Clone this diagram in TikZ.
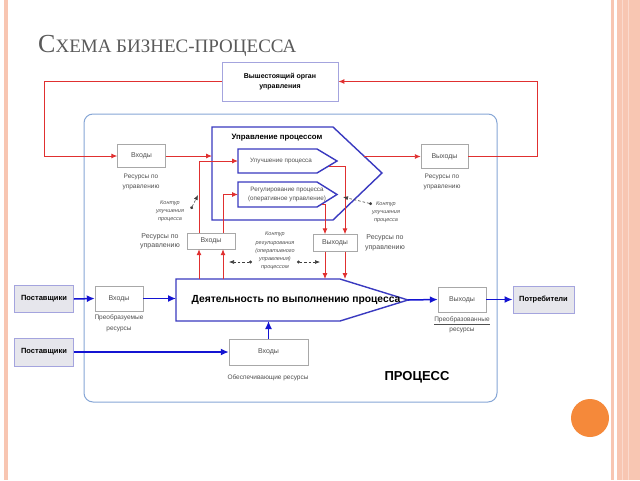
\documentclass[tikz,border=0pt]{standalone}
\usepackage{fontspec}
\setmainfont{Liberation Sans}
\newfontfamily\titlefont{Liberation Serif}
\usetikzlibrary{arrows.meta,calc}
\definecolor{pinkline}{HTML}{F8C6B2}
\definecolor{pinklite}{HTML}{FBDACE}
\definecolor{orangec}{HTML}{F5893A}
\definecolor{redl}{HTML}{E03030}
\definecolor{bluel}{HTML}{1414D2}
\definecolor{penta}{HTML}{3A3AC0}
\definecolor{procb}{HTML}{86A6D6}
\definecolor{boxg}{HTML}{A8A8A8}
\definecolor{supfill}{HTML}{E6E6EC}
\definecolor{supdraw}{HTML}{A4A4DE}
\definecolor{titleg}{HTML}{5A5A5A}
\definecolor{txtg}{HTML}{505050}
\tikzset{
  gbox/.style={draw=boxg, fill=white, inner sep=0pt, text=txtg, font=\fontsize{7}{8}\selectfont},
  supbox/.style={draw=supdraw, fill=supfill, inner sep=0pt, line width=0.8pt, font=\bfseries\fontsize{7.5}{8}\selectfont},
  bossbox/.style={draw=supdraw, fill=white, inner sep=0pt, line width=0.8pt, align=center, font=\bfseries\fontsize{7}{10}\selectfont},
  lbl/.style={inner sep=0pt, align=center, text=txtg, font=\fontsize{6.5}{9.5}\selectfont},
  klbl/.style={inner sep=0pt, align=center, text=txtg, font=\itshape\fontsize{5.5}{8.2}\selectfont},
  redarr/.style={draw=redl, line width=0.9pt, -{Latex[length=6pt,width=5pt]}},
  bluearr/.style={draw=bluel, line width=1.5pt, -{Latex[length=8pt,width=7pt]}},
  pentastyle/.style={draw=penta, line width=1.4pt, line join=miter},
  ctarr/.style={draw=black!75, line width=0.6pt, dash pattern=on 2.5pt off 2pt, {Circle[length=3pt]}-{Latex[length=5pt,width=4pt]}},
}
\begin{document}
\begin{tikzpicture}[x=1pt,y=-1pt]
\useasboundingbox (0,0) rectangle (640,480);
\fill[white] (0,0) rectangle (640,480);
% slide decorations
\fill[pinkline] (4,0) rectangle (7.5,480);
\fill[pinkline] (611,0) rectangle (614,480);
\fill[pinkline] (617,0) rectangle (640,480);
\draw[pinklite, line width=1pt] (622,0) -- (622,480);
\draw[pinklite, line width=1pt] (628,0) -- (628,480);
\fill[orangec] (590,418) circle (19);
% title
\node[anchor=base west, inner sep=0pt, text=titleg] (title) at (38,52)
  {\titlefont{\fontsize{26}{26}\selectfont С}\titlefont\fontsize{19}{19}\selectfont ХЕМА БИЗНЕС-ПРОЦЕССА};
% process frame
\draw[procb, line width=1pt, rounded corners=9pt] (84,114) rectangle (497,402);
% pentagons
\draw[pentastyle, fill=white] (212,127) -- (333,127) -- (382,173) -- (333,220) -- (212,220) -- cycle;
\draw[pentastyle, fill=white] (238,149) -- (317,149) -- (337,161) -- (317,173) -- (238,173) -- cycle;
\draw[pentastyle, fill=white] (238,182) -- (317,182) -- (337,194.5) -- (317,207) -- (238,207) -- cycle;
\draw[pentastyle, fill=white] (176,279) -- (340,279) -- (408,300) -- (340,321) -- (176,321) -- cycle;
\node[inner sep=0pt, font=\bfseries\fontsize{7.8}{9}\selectfont] (mgt) at (277,138) {Управление процессом};
\node[inner sep=0pt, text=txtg, font=\fontsize{6.3}{8}\selectfont] (impt) at (281,161) {Улучшение процесса};
\node[inner sep=0pt, align=center, text=txtg, font=\fontsize{6.3}{8.5}\selectfont] (regt) at (287,194.5) {Регулирование процесса\\(оперативное управление)};
\node[inner sep=0pt, font=\bfseries\fontsize{10.3}{12}\selectfont] (proct) at (296,300) {Деятельность по выполнению процесса};
% coordinates on pentagons
\coordinate (mgL) at (212,156);
\coordinate (mgR) at (364.4,156.5);
\coordinate (impL) at (238,161);
\coordinate (regL) at (238,194.5);
\coordinate (impE) at (329,166);
\coordinate (regE) at (322,204);
\coordinate (pt1) at (199,279);
\coordinate (pt2) at (223,279);
\coordinate (pt3) at (325,279);
\coordinate (pt4) at (345,279);
\coordinate (procL) at (176,298.5);
\coordinate (procTip) at (408,300);
\coordinate (procB) at (268.5,321);
\coordinate (lc) at (44,81.5);
\coordinate (rc) at (537,81.5);
% boxes
\node[bossbox, minimum width=116pt, minimum height=39pt] (boss) at (280,81.5) {Вышестоящий орган\\управления};
\node[gbox, minimum width=48pt, minimum height=23pt] (inL) at (141.5,156) {Входы};
\node[gbox, minimum width=47pt, minimum height=24pt] (outR) at (444.5,156.5) {Выходы};
\node[gbox, minimum width=48pt, minimum height=16pt] (inM) at (211,241) {Входы};
\node[gbox, minimum width=44pt, minimum height=17pt] (outM) at (335,243) {Выходы};
\node[gbox, minimum width=48pt, minimum height=25pt] (inA) at (119,298.5) {Входы};
\node[gbox, minimum width=79pt, minimum height=26pt] (inB) at (268.5,352) {Входы};
\node[gbox, minimum width=48pt, minimum height=25pt] (outA) at (462,299.5) {Выходы};
\node[supbox, minimum width=59pt, minimum height=27pt] (sup1) at (44,299) {Поставщики};
\node[supbox, minimum width=59pt, minimum height=28pt] (sup2) at (44,352) {Поставщики};
\node[supbox, minimum width=61pt, minimum height=27pt] (cons) at (543.5,299.5) {Потребители};
% red connectors
\draw[redarr] (boss.west) -- (lc) |- (inL.west);
\draw[redarr] (outR.east) -| (rc) -- (boss.east);
\draw[redarr] (inL.east) -- (mgL);
\draw[redarr] (mgR) -- (outR.west);
\draw[redarr] (pt1) -- (pt1 |- inM.south);
\draw[redarr] (pt2) -- (pt2 |- inM.south);
\draw[redarr] (pt1 |- inM.north) |- (impL);
\draw[redarr] (pt2 |- inM.north) |- (regL);
\draw[redarr] (impE) -| (pt4 |- outM.north);
\draw[redarr] (regE) -| (pt3 |- outM.north);
\draw[redarr] (pt3 |- outM.south) -- (pt3);
\draw[redarr] (pt4 |- outM.south) -- (pt4);
% blue connectors
\draw[bluearr] (sup1.east) -- (inA.west);
\draw[bluearr] (inA.east) -- (procL);
\draw[bluearr] (procTip) -- (outA.west);
\draw[bluearr] (outA.east) -- (cons.west);
\draw[bluearr] (sup2.east) -- (inB.west);
\draw[bluearr] (inB.north) -- (procB);
% labels
\node[lbl] (l1) at (141,182) {Ресурсы по\\управлению};
\node[lbl] (l2) at (442,182) {Ресурсы по\\управлению};
\node[lbl, font=\fontsize{7}{9.5}\selectfont] (l3) at (160,241.5) {Ресурсы по\\управлению};
\node[lbl, font=\fontsize{7}{9.5}\selectfont] (l4) at (385,243) {Ресурсы по\\управлению};
\node[lbl, font=\fontsize{6.5}{11}\selectfont] (l5) at (119,323.5) {Преобразуемые\\ресурсы};
\node[lbl] (l6) at (268,378) {Обеспечивающие ресурсы};
\node[lbl, font=\fontsize{6.5}{10.5}\selectfont] (l7) at (462,325) {\underline{Преобразованные}\\ресурсы};
\node[inner sep=0pt, font=\bfseries\fontsize{13}{14}\selectfont] (proc) at (417,377) {ПРОЦЕСС};
\node[klbl] (k1) at (170,211) {Контур\\улучшения\\процесса};
\node[klbl] (k2) at (386,212) {Контур\\улучшения\\процесса};
\node[klbl] (k3) at (275,251) {Контур\\регулирования\\(оперативного\\управления)\\процессом};
% contour arrows
\coordinate (k1a) at (191,209); \coordinate (k1b) at (198,195);
\coordinate (k2a) at (372,204); \coordinate (k2b) at (343,197);
\coordinate (k3a) at (252,262); \coordinate (k3b) at (229,262);
\coordinate (k3c) at (297,262); \coordinate (k3d) at (320,262);
\draw[ctarr] (k1a) -- (k1b);
\draw[ctarr] (k2a) -- (k2b);
\draw[ctarr] (k3a) -- (k3b);
\draw[ctarr] (k3c) -- (k3d);
\end{tikzpicture}
\end{document}
